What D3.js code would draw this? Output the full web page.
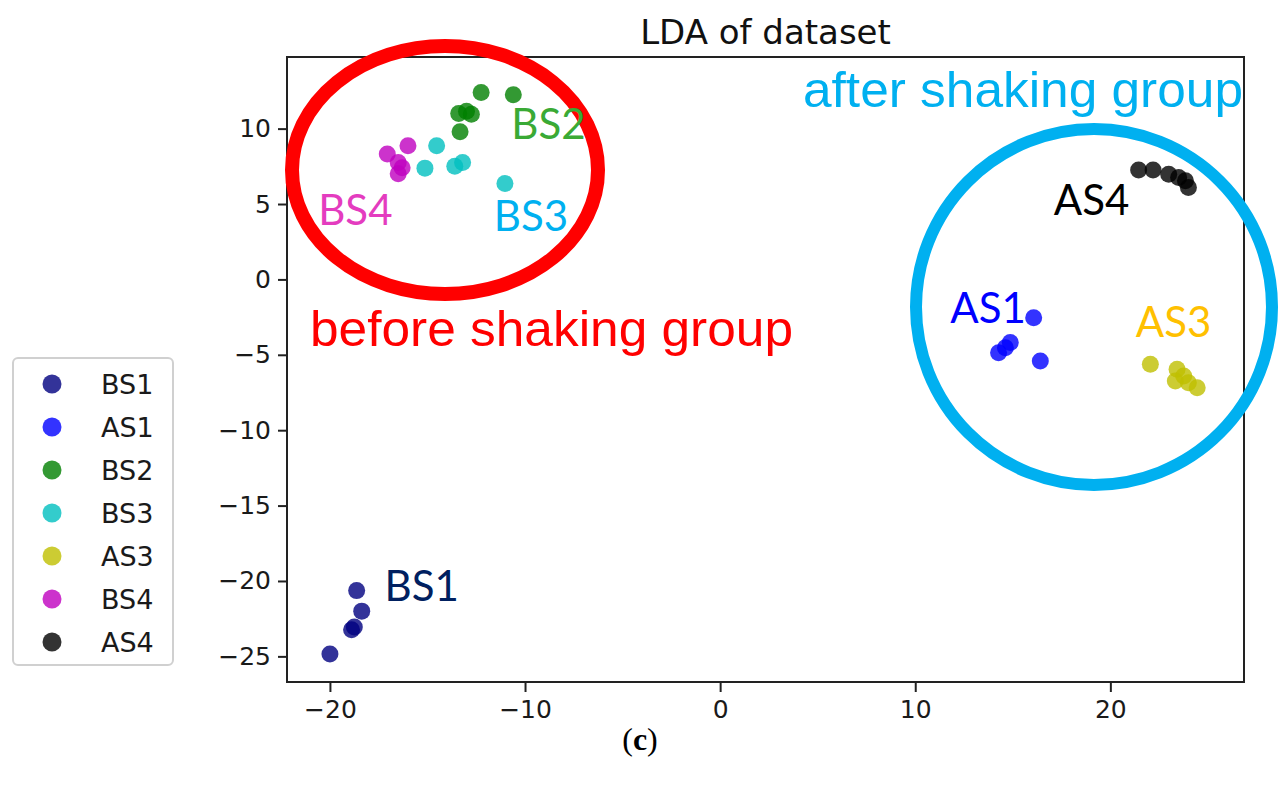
<!DOCTYPE html>
<html>
<head>
<meta charset="utf-8">
<script src="https://cdn.jsdelivr.net/npm/d3@7"></script>
<style>
  html, body { margin: 0; padding: 0; background: #fff; }
  svg { display: block; }
</style>
</head>
<body>
<svg id="chart" width="1279" height="787"></svg>
<script>
// ---- data ----
const seriesNames = ["BS1", "AS1", "BS2", "BS3", "AS3", "BS4", "AS4"];
const seriesColors = ["navy", "blue", "green", "#00bfbf", "#bfbf00", "#bf00bf", "black"];

const bs1X = [-18.63, -18.37, -18.89, -18.75, -20.0];
const bs1Y = [-20.64, -22.0, -23.23, -23.05, -24.85];
const as1X = [16.07, 14.87, 14.62, 14.27, 16.41];
const as1Y = [-2.54, -4.19, -4.53, -4.86, -5.41];
const bs2X = [-12.25, -10.6, -13.4, -13.0, -12.75, -13.33];
const bs2Y = [12.4, 12.25, 11.0, 11.15, 10.95, 9.8];
const bs3X = [-14.53, -15.13, -13.6, -13.2, -11.03];
const bs3Y = [8.86, 7.38, 7.5, 7.75, 6.36];
const as3X = [22.05, 23.42, 23.76, 23.33, 24.0, 24.45];
const as3Y = [-5.63, -5.96, -6.41, -6.74, -6.85, -7.18];
const bs4X = [-17.06, -16.0, -16.5, -16.3, -16.5];
const bs4Y = [8.31, 8.86, 7.75, 7.4, 7.0];
const as4X = [21.45, 22.19, 22.99, 23.5, 23.85, 24.0];
const as4Y = [7.25, 7.25, 6.98, 6.76, 6.54, 6.1];

const xTicks = [-20, -10, 0, 10, 20];
const yTicks = [10, 5, 0, -5, -10, -15, -20, -25];

const titleText = "LDA of dataset";
const captionText = "c";

// cluster annotations
const clusterLabels = ["BS2", "BS4", "BS3", "AS4", "AS1", "AS3", "BS1"];
const clusterLabelColors = ["#3aaa35", "#e43cbf", "#00b0f0", "#000000", "#0000ff", "#ffc000", "#002060"];
const clusterLabelX = [-10.7, -20.6, -11.6, 17.1, 11.8, 21.3, -17.2];
const clusterLabelY = [9.3, 3.6, 3.2, 4.3, -2.9, -3.8, -21.3];

const groupTexts = ["before shaking group", "after shaking group"];

// ---- layout ----
const svg = d3.select("#chart");
const plotL = 287, plotR = 1244, plotT = 57, plotB = 682;

const x = d3.scaleLinear().domain([-22.2, 26.85]).range([plotL, plotR]);
const y = d3.scaleLinear().domain([-26.7, 14.75]).range([plotB, plotT]);

const allX = [bs1X, as1X, bs2X, bs3X, as3X, bs4X, as4X];
const allY = [bs1Y, as1Y, bs2Y, bs3Y, as3Y, bs4Y, as4Y];

const tickFont = "'DejaVu Sans', sans-serif";

// points
const pts = svg.append("g");
seriesNames.forEach((name, i) => {
  const data = allX[i].map((v, j) => [v, allY[i][j]]);
  pts.selectAll(null).data(data).enter().append("circle")
    .attr("cx", d => x(d[0]))
    .attr("cy", d => y(d[1]))
    .attr("r", 8.5)
    .attr("fill", seriesColors[i])
    .attr("fill-opacity", 0.8);
});

// axes
const xAxis = d3.axisBottom(x).tickValues(xTicks).tickSize(10).tickPadding(8)
  .tickFormat(d => d < 0 ? "\u2212" + Math.abs(d) : d);
const yAxis = d3.axisLeft(y).tickValues(yTicks).tickSize(9).tickPadding(7)
  .tickFormat(d => d < 0 ? "\u2212" + Math.abs(d) : d);

const gx = svg.append("g").attr("transform", `translate(0,${plotB})`).call(xAxis);
const gy = svg.append("g").attr("transform", `translate(${plotL},0)`).call(yAxis);
[gx, gy].forEach(g => {
  g.select(".domain").remove();
  g.selectAll(".tick line").attr("stroke", "#222").attr("stroke-width", 2);
  g.selectAll(".tick text").attr("fill", "#1a1a1a")
    .style("font-family", tickFont).style("font-size", "25px");
});

// frame
svg.append("rect")
  .attr("x", plotL).attr("y", plotT)
  .attr("width", plotR - plotL).attr("height", plotB - plotT)
  .attr("fill", "none").attr("stroke", "#222").attr("stroke-width", 2);

// title
svg.append("text")
  .attr("x", (plotL + plotR) / 2).attr("y", 44)
  .attr("text-anchor", "middle")
  .style("font-family", tickFont).style("font-size", "34px")
  .attr("fill", "#111")
  .text(titleText);

// legend
const lg = svg.append("g");
lg.append("rect")
  .attr("x", 13).attr("y", 358).attr("width", 160).attr("height", 307)
  .attr("rx", 5).attr("fill", "#fff").attr("stroke", "#d0d0d0").attr("stroke-width", 2);
seriesNames.forEach((name, i) => {
  const cy = 384 + i * 43;
  lg.append("circle").attr("cx", 52).attr("cy", cy).attr("r", 9.5)
    .attr("fill", seriesColors[i]).attr("fill-opacity", 0.8);
  lg.append("text").attr("x", 101).attr("y", cy + 10)
    .style("font-family", tickFont).style("font-size", "27px")
    .attr("fill", "#1a1a1a").text(name);
});

// overlays: ellipse and circle
svg.append("ellipse")
  .attr("cx", 445).attr("cy", 170).attr("rx", 153).attr("ry", 124)
  .attr("fill", "none").attr("stroke", "#ff0000").attr("stroke-width", 14);
svg.append("circle")
  .attr("cx", 1094).attr("cy", 307).attr("r", 178)
  .attr("fill", "none").attr("stroke", "#00b0f0").attr("stroke-width", 12);

// cluster labels
clusterLabels.forEach((t, i) => {
  svg.append("text")
    .attr("x", x(clusterLabelX[i])).attr("y", y(clusterLabelY[i]))
    .style("font-family", "Lato, 'Open Sans', sans-serif").style("font-size", "42px")
    .attr("fill", clusterLabelColors[i]).text(t);
});

// group texts
svg.append("text").attr("x", 310).attr("y", 346)
  .attr("textLength", 483).attr("lengthAdjust", "spacingAndGlyphs")
  .style("font-family", "'Liberation Sans', Arial, sans-serif").style("font-size", "50px")
  .attr("fill", "#ff0000").text(groupTexts[0]);
svg.append("text").attr("x", 803).attr("y", 107)
  .attr("textLength", 440).attr("lengthAdjust", "spacingAndGlyphs")
  .style("font-family", "'Liberation Sans', Arial, sans-serif").style("font-size", "50px")
  .attr("fill", "#00b0f0").text(groupTexts[1]);

// caption
const cap = svg.append("text").attr("x", 640).attr("y", 750).attr("text-anchor", "middle")
  .style("font-family", "'Liberation Serif', 'DejaVu Serif', serif").style("font-size", "32px")
  .attr("fill", "#000");
cap.append("tspan").text("(");
cap.append("tspan").attr("font-weight", "bold").text(captionText);
cap.append("tspan").text(")");
</script>
</body>
</html>
